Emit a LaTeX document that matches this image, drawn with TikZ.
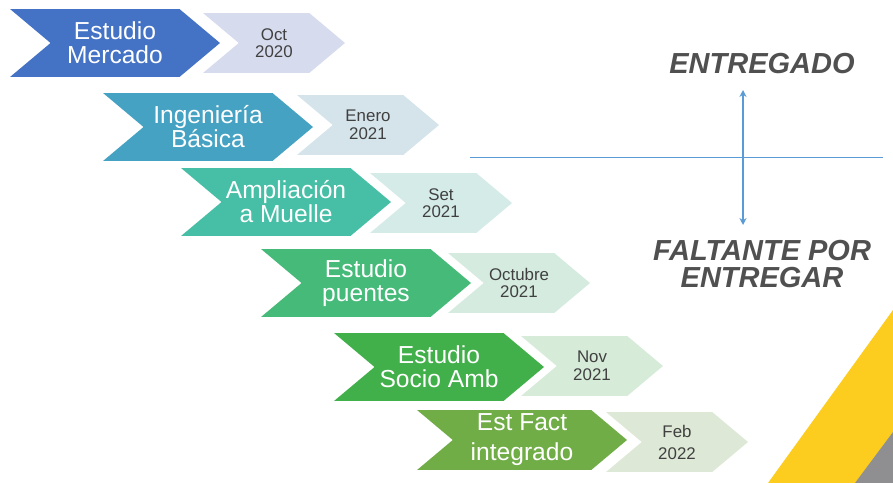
\documentclass[tikz,border=0pt]{standalone}
\usepackage{fontspec}
\setmainfont{Liberation Sans}
\usetikzlibrary{shapes.symbols,arrows.meta}
\definecolor{c1}{HTML}{4472C4}
\definecolor{c2}{HTML}{45A2C2}
\definecolor{c3}{HTML}{47BFA6}
\definecolor{c4}{HTML}{46BA78}
\definecolor{c5}{HTML}{42B04A}
\definecolor{c6}{HTML}{70AD47}
\definecolor{d1}{HTML}{D6DBEE}
\definecolor{d2}{HTML}{D5E4EA}
\definecolor{d3}{HTML}{D4EBE7}
\definecolor{d4}{HTML}{D5EBE0}
\definecolor{d5}{HTML}{D7EBD9}
\definecolor{d6}{HTML}{DDE9D6}
\definecolor{txtgray}{HTML}{404040}
\definecolor{hdgray}{HTML}{505050}
\definecolor{linblue}{HTML}{5B9BD5}
\definecolor{ambar}{HTML}{FCCC1F}
\definecolor{gris}{HTML}{8F8F91}
\tikzset{
  chev/.style = {shape=signal, signal to=east, signal from=west, signal pointer angle=80,
    inner sep=0pt, align=center},
  task/.style = {chev, minimum width=4.2cm, minimum height=1.36cm, text=white,
    font=\fontsize{14}{13.6}\selectfont},
  fecha/.style = {chev, minimum width=2.84cm, minimum height=1.2cm, text=txtgray,
    font=\fontsize{9.6}{10}\selectfont},
  rotulo/.style = {text=hdgray, align=center, font=\fontsize{16.5}{15}\selectfont\bfseries\itshape}
}

\begin{document}
\begin{tikzpicture}[x=0.02cm,y=-0.02cm]
\useasboundingbox (0,0) rectangle (893,483);
% esquina
\fill[ambar] (893,310) -- (768,483) -- (893,483) -- cycle;
\fill[gris] (893,432) -- (855,483) -- (893,483) -- cycle;

% etapas
\node [task, fill=c1] (t1) at (115,43) {Estudio\\Mercado};
\node [fecha, fill=d1] (f1) at (274,43) {Oct\\2020};
\node [task, fill=c2] (t2) at (208,127) {Ingeniería\\Básica};
\node [fecha, fill=d2] (f2) at (368,125) {Enero\\2021};
\node [task, fill=c3] (t3) at (286,202) {Ampliación\\a Muelle};
\node [fecha, fill=d3] (f3) at (441,203) {Set\\2021};
\node [task, fill=c4] (t4) at (366,283) {Estudio\\puentes};
\node [fecha, fill=d4] (f4) at (519,283) {Octubre\\2021};
\node [task, fill=c5] (t5) at (439,367) {Estudio\\Socio Amb};
\node [fecha, fill=d5] (f5) at (592,366) {Nov\\2021};
\node [task, fill=c6, minimum height=1.2cm, font=\fontsize{14}{17}\selectfont] (t6) at (522,440) {Est Fact\\integrado};
\node [fecha, fill=d6, font=\fontsize{9.6}{12.5}\selectfont] (f6) at (677,442) {Feb\\2022};

% leyenda
\node [rotulo] (ent) at (762,64) {ENTREGADO};
\node [rotulo] (falt) at (762,264) {FALTANTE POR\\ENTREGAR};
\coordinate (ha) at (470,157);
\coordinate (hb) at (883,157);
\coordinate (va) at (743,90);
\coordinate (vb) at (743,225);
\draw[linblue, thin] (ha) -- (hb);
\draw[linblue, line width=0.9pt, {Stealth[length=4pt,width=4pt]}-{Stealth[length=4pt,width=4pt]}] (va) -- (vb);
\end{tikzpicture}
\end{document}
